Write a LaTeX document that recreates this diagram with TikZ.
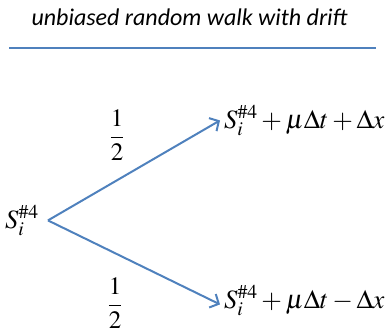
\documentclass[tikz,border=0pt]{standalone}
\usepackage{mathptmx}
\usepackage[no-math]{fontspec}
\newfontfamily\titlefont{Carlito}
\usetikzlibrary{positioning,arrows.meta}
\definecolor{walkblue}{RGB}{79,129,189}

\begin{document}
\begin{tikzpicture}[
  x=1pt, y=-1pt,
  >={Straight Barb[length=7pt,width=15pt]},
  title/.style={font=\titlefont\itshape\fontsize{24}{28}\selectfont, inner sep=0pt},
  state/.style={font=\fontsize{26.5}{30}\selectfont, inner sep=0pt},
  prob/.style={font=\fontsize{25}{30}\selectfont, inner sep=0pt},
  rule/.style={draw=walkblue, line width=2pt},
  branch/.style={->, draw=walkblue, line width=2pt}
]
\useasboundingbox (0,0) rectangle (391,335);

% Title with rule underneath
\node[title, anchor=base] (head) at (189.5,25) {unbiased random walk with drift};
\coordinate (ruleL) at (9,48);
\coordinate (ruleR) at (376,48);
\draw[rule] (ruleL) -- (ruleR);

% States
\node[state, anchor=base west] (root) at (5,228) {$S_i^{\#4}$};
\node[state, anchor=base west] (up)   at (224,128) {$S_i^{\#4}+\mu\Delta t+\Delta x$};
\node[state, anchor=base west] (down) at (224,308) {$S_i^{\#4}+\mu\Delta t-\Delta x$};

% Probabilities
\node[prob] (pUp)   at (117,135) {$\displaystyle\frac{1}{2}$};
\node[prob] (pDown) at (115,303) {$\displaystyle\frac{1}{2}$};

% Branches
\draw[branch] ([xshift=9pt]root.east) -- ([xshift=-4pt]up.west);
\draw[branch] ([xshift=9pt]root.east) -- ([xshift=-4pt,yshift=-4pt]down.west);

\end{tikzpicture}
\end{document}
